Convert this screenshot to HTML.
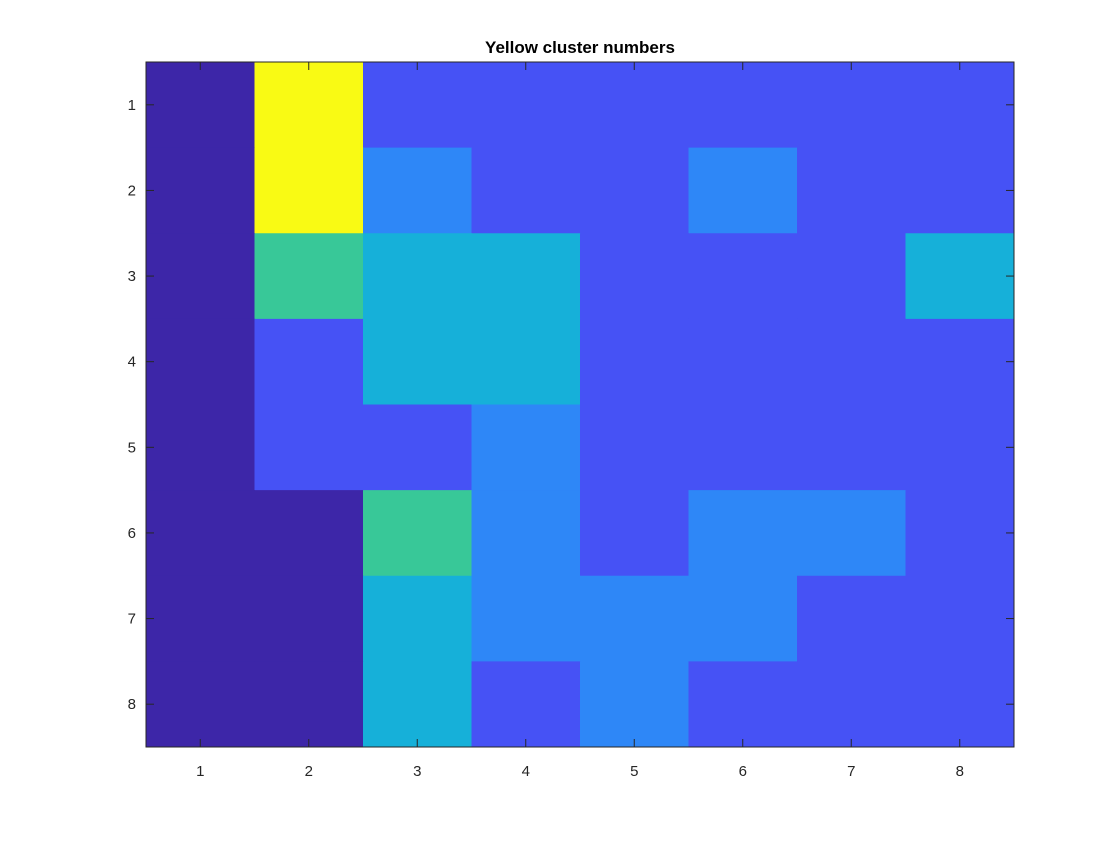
<!DOCTYPE html>
<html><head><meta charset="utf-8"><style>
body{margin:0;background:#fff;font-family:"Liberation Sans",sans-serif}
</style></head><body>
<svg width="1120" height="840" xmlns="http://www.w3.org/2000/svg">
<rect width="1120" height="840" fill="#fff"/>
<text x="580" y="53" text-anchor="middle" font-size="17" font-weight="bold" fill="#000">Yellow cluster numbers</text>
<g id="cells"></g>
<g id="axes"></g>
</svg>
<script>
const rowLabels = ["1","2","3","4","5","6","7","8"];
const colLabels = ["1","2","3","4","5","6","7","8"];
const values = [
 [0,7,1,1,1,1,1,1],
 [0,7,2,1,1,2,1,1],
 [0,4,3,3,1,1,1,3],
 [0,1,3,3,1,1,1,1],
 [0,1,1,2,1,1,1,1],
 [0,0,4,2,1,2,2,1],
 [0,0,3,2,2,2,1,1],
 [0,0,3,1,2,1,1,1]
];
const X0=146,X1=1014,Y0=62,Y1=747;
const nC=colLabels.length,nR=rowLabels.length;
const cw=(X1-X0)/nC,rh=(Y1-Y0)/nR;
const xs=j=>X0+j*cw, ys=i=>Y0+i*rh;
let vmin=Infinity,vmax=-Infinity;
values.forEach(r=>r.forEach(v=>{vmin=Math.min(vmin,v);vmax=Math.max(vmax,v);}));
const anchors=[[0,[61,38,168]],[0.143,[70,82,245]],[0.286,[46,135,247]],[0.43,[22,176,217]],[0.57,[55,200,153]],[0.75,[170,200,60]],[0.9,[250,190,50]],[1,[249,250,20]]];
function cmap(t){
 for(let k=1;k<anchors.length;k++){
  if(t<=anchors[k][0]){const a=anchors[k-1],b=anchors[k];const f=(t-a[0])/(b[0]-a[0]);
   return `rgb(${a[1].map((c,i)=>Math.round(c+(b[1][i]-c)*f)).join(',')})`;}
 }
 return 'rgb(249,250,20)';
}
const NS="http://www.w3.org/2000/svg";
const g=document.getElementById('cells');
values.forEach((row,i)=>row.forEach((v,j)=>{
 const r=document.createElementNS(NS,'rect');
 r.setAttribute('x',xs(j));r.setAttribute('y',ys(i));
 r.setAttribute('width',cw+0.5);r.setAttribute('height',rh+0.5);
 r.setAttribute('fill',cmap(vmax>vmin?(v-vmin)/(vmax-vmin):0));
 
 
 g.appendChild(r);
}));
const ax=document.getElementById('axes');
const frame=document.createElementNS(NS,'rect');
frame.setAttribute('x',X0);frame.setAttribute('y',Y0);frame.setAttribute('width',X1-X0);frame.setAttribute('height',Y1-Y0);
frame.setAttribute('fill','none');frame.setAttribute('stroke','#262626');frame.setAttribute('stroke-width','1');


ax.appendChild(frame);
function line(x1,y1,x2,y2){const l=document.createElementNS(NS,'line');l.setAttribute('x1',x1);l.setAttribute('y1',y1);l.setAttribute('x2',x2);l.setAttribute('y2',y2);l.setAttribute('stroke','#262626');
 
 
 ax.appendChild(l);}
function text(x,y,s,anchor,name){const t=document.createElementNS(NS,'text');t.setAttribute('x',x);t.setAttribute('y',y);t.setAttribute('text-anchor',anchor);t.setAttribute('font-size','15');t.setAttribute('fill','#262626');t.textContent=s;
 
 
 ax.appendChild(t);}
rowLabels.forEach((s,i)=>{const y=ys(i)+rh/2;line(X0,y,X0+8,y);line(X1,y,X1-8,y);text(136,y+5,s,'end','y-tick-label');});
colLabels.forEach((s,j)=>{const x=xs(j)+cw/2;line(x,Y1,x,Y1-8);line(x,Y0,x,Y0+8);text(x,776,s,'middle','x-tick-label');});
</script>
</body></html>
